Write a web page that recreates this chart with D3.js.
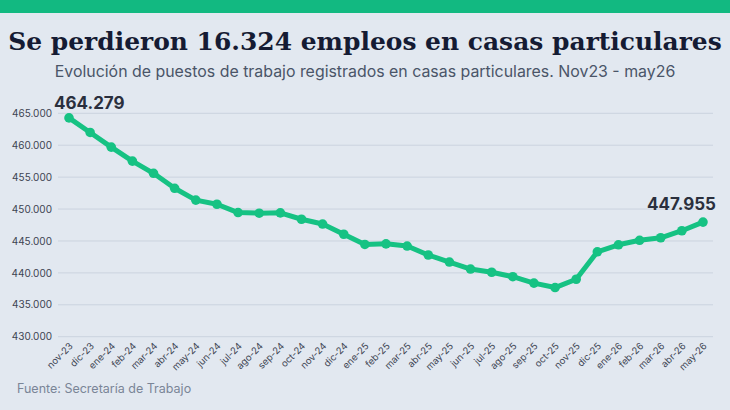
<!DOCTYPE html>
<html>
<head>
<meta charset="utf-8">
<script src="https://cdn.jsdelivr.net/npm/d3@7"></script>
<style>
  html, body { margin: 0; padding: 0; background: #e2e8f0; }
  svg { display: block; }
</style>
</head>
<body>
<svg id="chart" width="730" height="410"></svg>
<script>
const categories = ["nov-23","dic-23","ene-24","feb-24","mar-24","abr-24","may-24","jun-24","jul-24","ago-24","sep-24","oct-24","nov-24","dic-24","ene-25","feb-25","mar-25","abr-25","may-25","jun-25","jul-25","ago-25","sep-25","oct-25","nov-25","dic-25","ene-26","feb-26","mar-26","abr-26","may-26"];
const values = [464279,462000,459700,457500,455600,453250,451400,450750,449450,449350,449400,448400,447650,446050,444450,444550,444200,442800,441700,440600,440100,439400,438400,437700,439000,443300,444400,445100,445500,446600,447955];
const yTicks = [430000,435000,440000,445000,450000,455000,460000,465000];
const title = "Se perdieron 16.324 empleos en casas particulares";
const subtitle = "Evolución de puestos de trabajo registrados en casas particulares. Nov23 - may26";
const source = "Fuente: Secretaría de Trabajo";

const svg = d3.select("#chart");
const W = 730, H = 410;
const green = "#16c283";
const fmt = v => d3.format(",")(v).replace(/,/g, ".");

svg.append("rect").attr("width", W).attr("height", H).attr("fill", "#e2e8f0");
svg.append("rect").attr("width", W).attr("height", 13).attr("fill", "#12b981");

// Title
const t = svg.append("text").attr("x", W/2).attr("y", 49.5).attr("text-anchor", "middle")
  .attr("font-family", "DejaVu Serif").attr("font-weight", "bold").attr("font-size", 26)
  .attr("fill", "#151b33").text(title);
let tw = t.node().getComputedTextLength();
t.attr("font-size", 26 * 714 / tw);

const st = svg.append("text").attr("x", W/2).attr("y", 76.5).attr("text-anchor", "middle")
  .attr("font-family", "Inter").attr("font-size", 14).attr("fill", "#4a5568").text(subtitle);
let sw = st.node().getComputedTextLength();
st.attr("font-size", 14 * 621 / sw);

// Scales
const x = d3.scalePoint().domain(categories).range([69, 703]);
const y = d3.scaleLinear().domain([430000, 465000]).range([336.7, 113.3]);

// Grid
const grid = svg.append("g");
grid.selectAll("line").data(yTicks).join("line")
  .attr("x1", 58).attr("x2", 713)
  .attr("y1", d => y(d)).attr("y2", d => y(d))
  .attr("stroke", "#cbd3df").attr("stroke-width", 1);

// Y axis labels
const yAxis = svg.append("g").attr("transform", "translate(52,0)")
  .call(d3.axisLeft(y).tickValues(yTicks).tickSize(0).tickPadding(0).tickFormat(fmt));
yAxis.select(".domain").remove();
yAxis.selectAll("text").attr("font-family", "Inter").attr("font-size", 10).attr("fill", "#3d4452");

// X axis labels
const xAxis = svg.append("g").attr("transform", "translate(0,336.7)")
  .call(d3.axisBottom(x).tickSize(0).tickPadding(0));
xAxis.select(".domain").remove();
xAxis.selectAll("text")
  .attr("font-family", "Inter").attr("font-size", 9.5).attr("fill", "#3d4452")
  .attr("text-anchor", "end").attr("dy", 0).attr("y", 0)
  .attr("transform", "translate(4,10) rotate(-45)");

// Line
const data = categories.map((c, i) => ({c, v: values[i]}));
svg.append("path").datum(data)
  .attr("fill", "none").attr("stroke", green).attr("stroke-width", 5)
  .attr("stroke-linejoin", "round").attr("stroke-linecap", "round")
  .attr("d", d3.line().x(d => x(d.c)).y(d => y(d.v)));
svg.append("g").selectAll("circle").data(data).join("circle")
  .attr("cx", d => x(d.c)).attr("cy", d => y(d.v)).attr("r", 4.8).attr("fill", green);

// Annotations
const first = data[0], last = data[data.length - 1];
svg.append("text").attr("x", x(first.c) - 15).attr("y", y(first.v) - 9)
  .attr("font-family", "Inter").attr("font-weight", "bold").attr("font-size", 17)
  .attr("fill", "#2a2f3d").text(fmt(first.v));
svg.append("text").attr("x", x(last.c) + 13).attr("y", y(last.v) - 12.5).attr("text-anchor", "end")
  .attr("font-family", "Inter").attr("font-weight", "bold").attr("font-size", 17)
  .attr("fill", "#2a2f3d").text(fmt(last.v));

// Source
svg.append("text").attr("x", 17).attr("y", 393).attr("font-family", "Inter").attr("font-size", 12.5)
  .attr("fill", "#7a8597").text(source);
</script>
</body>
</html>
